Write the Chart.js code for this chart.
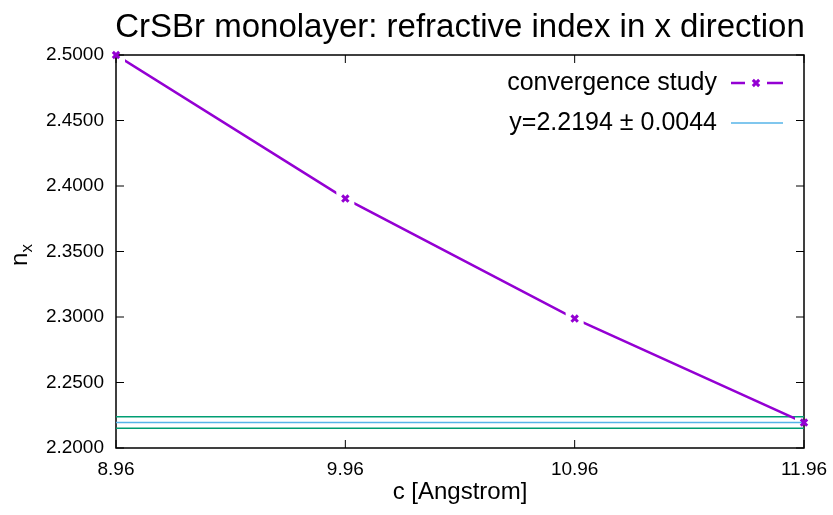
<!DOCTYPE html>
<html>
<head>
<meta charset="utf-8">
<script src="https://cdn.jsdelivr.net/npm/chart.js@4"></script>
<style>
  html, body { margin: 0; padding: 0; background: #fff; }
  #wrap { width: 833px; height: 515px; }
</style>
</head>
<body>
<div id="wrap"><canvas id="nxChart"></canvas></div>
<script>
// lattice constant c [Angstrom] and refractive index n_x
const cValues = [8.96, 9.96, 10.96, 11.96];
const nxValues = [2.5000, 2.3904, 2.2988, 2.2194];

// converged value and its uncertainty
const fitMean = 2.2194;
const fitError = 0.0044;

const xTicks = [8.96, 9.96, 10.96, 11.96];
const yTicks = [2.20, 2.25, 2.30, 2.35, 2.40, 2.45, 2.50];

const FONT = '"Liberation Sans", Arial, Helvetica, sans-serif';
const PURPLE = '#9400D3';
const BLUE = '#56B4E9';
const GREEN = '#009E73';

const convergencePts = cValues.map((c, i) => ({ x: c, y: nxValues[i] }));
const flatLine = v => [{ x: cValues[0], y: v }, { x: cValues[cValues.length - 1], y: v }];

// gnuplot style frame: box border with inward ticks on all four sides
const framePlugin = {
    id: 'frame',
    beforeDatasetsDraw(chart) {
        const ctx = chart.ctx;
        const a = chart.chartArea;
        const xs = chart.scales.x, ys = chart.scales.y;
        const len = 8;
        ctx.save();
        ctx.strokeStyle = '#000';
        ctx.lineWidth = 1.5;
        ctx.strokeRect(a.left, a.top, a.right - a.left, a.bottom - a.top);
        ctx.lineWidth = 1;
        ctx.beginPath();
        xTicks.forEach(v => {
            const px = xs.getPixelForValue(v);
            ctx.moveTo(px, a.bottom); ctx.lineTo(px, a.bottom - len);
            ctx.moveTo(px, a.top); ctx.lineTo(px, a.top + len);
        });
        yTicks.forEach(v => {
            const py = ys.getPixelForValue(v);
            ctx.moveTo(a.left, py); ctx.lineTo(a.left + len, py);
            ctx.moveTo(a.right, py); ctx.lineTo(a.right - len, py);
        });
        ctx.stroke();
        ctx.restore();
    },
    afterDraw(chart) {
        const ctx = chart.ctx;
        const a = chart.chartArea;
        ctx.save();
        ctx.fillStyle = '#000';

        // title
        ctx.font = '33px ' + FONT;
        ctx.textAlign = 'center';
        ctx.textBaseline = 'alphabetic';
        ctx.fillText('CrSBr monolayer: refractive index in x direction', (a.left + a.right) / 2, 37);

        // y axis title n_x, rotated
        ctx.save();
        ctx.translate(27, 266);
        ctx.rotate(-Math.PI / 2);
        ctx.textAlign = 'left';
        ctx.font = '24px ' + FONT;
        ctx.fillText('n', 0, 0);
        ctx.font = '17px ' + FONT;
        ctx.fillText('x', 13.5, 5);
        ctx.restore();

        // key, top right inside the frame
        const textRight = a.right - 87;
        const s0 = a.right - 73, s1 = a.right - 21;
        ctx.font = '25px ' + FONT;
        ctx.textAlign = 'right';
        ctx.textBaseline = 'middle';
        ctx.fillText('convergence study', textRight, a.top + 28);
        ctx.fillText('y=' + fitMean.toFixed(4) + ' \u00b1 ' + fitError.toFixed(4), textRight, a.top + 68);

        let y = a.top + 28;
        const mid = (s0 + s1) / 2;
        ctx.strokeStyle = PURPLE;
        ctx.lineWidth = 2.5;
        ctx.beginPath();
        ctx.moveTo(s0, y); ctx.lineTo(mid - 12, y);
        ctx.moveTo(mid + 10, y); ctx.lineTo(s1, y);
        ctx.stroke();
        ctx.lineWidth = 3;
        Chart.helpers.drawPoint(ctx, { pointStyle: 'crossRot', radius: 4.5, rotation: 0, borderWidth: 3 }, mid - 1, y);

        y = a.top + 68;
        ctx.strokeStyle = BLUE;
        ctx.lineWidth = 1.5;
        ctx.beginPath();
        ctx.moveTo(s0, y); ctx.lineTo(s1, y);
        ctx.stroke();
        ctx.restore();
    }
};

// leave a small gap in the convergence line around each point
const gapPlugin = {
    id: 'lineGaps',
    beforeDatasetDraw(chart, args) {
        if (args.index !== 0) return;
        const ctx = chart.ctx;
        const g = 9;
        ctx.save();
        ctx.beginPath();
        ctx.rect(0, 0, chart.width, chart.height);
        args.meta.data.forEach(p => ctx.rect(p.x - g, p.y - g, 2 * g, 2 * g));
        ctx.clip('evenodd');
    },
    afterDatasetDraw(chart, args) {
        if (args.index !== 0) return;
        chart.ctx.restore();
    }
};

const ctx = document.getElementById('nxChart').getContext('2d');
new Chart(ctx, {
    type: 'scatter',
    data: {
        datasets: [
            {
                label: 'convergence study',
                data: convergencePts,
                showLine: true,
                borderColor: PURPLE,
                borderWidth: 2.5,
                pointRadius: 0,
                fill: false
            },
            {
                label: 'points',
                data: convergencePts,
                showLine: false,
                pointStyle: 'crossRot',
                pointRadius: 4.5,
                pointBorderWidth: 3,
                borderColor: PURPLE,
                backgroundColor: PURPLE,
                clip: false
            },
            {
                label: 'mean',
                data: flatLine(fitMean),
                showLine: true,
                borderColor: BLUE,
                borderWidth: 1.5,
                pointRadius: 0
            },
            {
                label: 'mean + err',
                data: flatLine(fitMean + fitError),
                showLine: true,
                borderColor: GREEN,
                borderWidth: 1.5,
                pointRadius: 0
            },
            {
                label: 'mean - err',
                data: flatLine(fitMean - fitError),
                showLine: true,
                borderColor: GREEN,
                borderWidth: 1.5,
                pointRadius: 0
            }
        ]
    },
    options: {
        responsive: true,
        maintainAspectRatio: false,
        animation: false,
        events: [],
        layout: { padding: { top: 55, right: 29, left: 0, bottom: 0 } },
        plugins: {
            legend: { display: false },
            title: { display: false },
            tooltip: { enabled: false }
        },
        scales: {
            x: {
                type: 'linear',
                min: 8.96,
                max: 11.96,
                afterBuildTicks: scale => { scale.ticks = xTicks.map(v => ({ value: v })); },
                afterFit: scale => {
                    scale.height = 67;
                    scale.paddingLeft = 0;
                    scale.paddingRight = 0;
                },
                grid: { display: false, drawTicks: false },
                border: { display: false },
                ticks: {
                    color: '#000',
                    padding: 10,
                    maxRotation: 0,
                    font: { family: FONT, size: 19 },
                    callback: v => Number(v).toFixed(2)
                },
                title: {
                    display: true,
                    text: 'c [Angstrom]',
                    color: '#000',
                    font: { family: FONT, size: 24 },
                    padding: { top: 0, bottom: 8 }
                }
            },
            y: {
                min: 2.2,
                max: 2.5,
                afterBuildTicks: scale => { scale.ticks = yTicks.map(v => ({ value: v })); },
                afterFit: scale => {
                    scale.width = 116;
                    scale.paddingTop = 0;
                    scale.paddingBottom = 0;
                },
                grid: { display: false, drawTicks: false },
                border: { display: false },
                ticks: {
                    color: '#000',
                    padding: 12,
                    font: { family: FONT, size: 19 },
                    callback: v => Number(v).toFixed(4)
                }
            }
        }
    },
    plugins: [gapPlugin, framePlugin]
});
</script>
</body>
</html>
